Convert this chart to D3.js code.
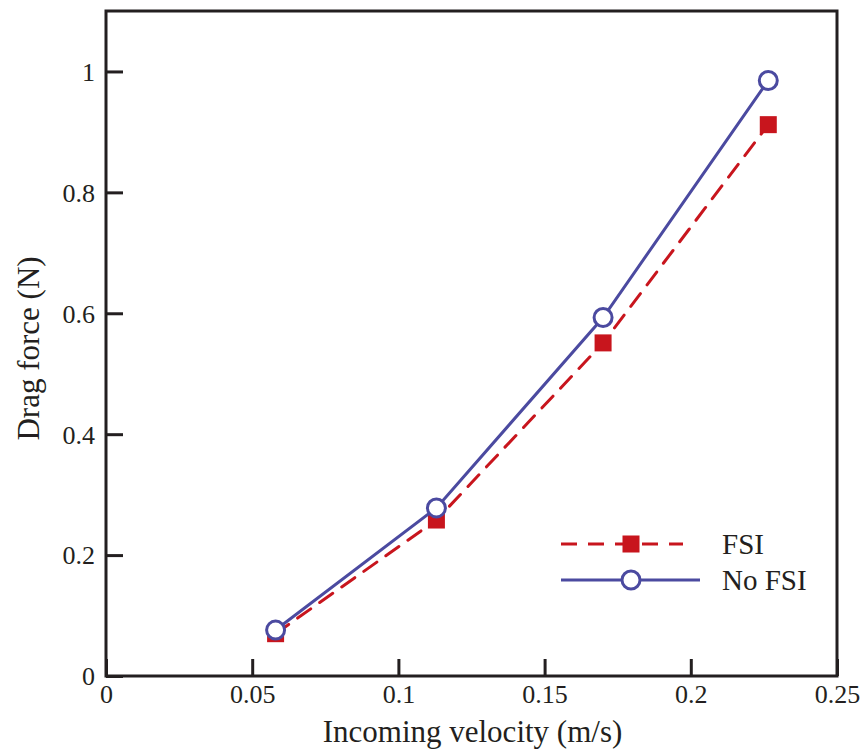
<!DOCTYPE html>
<html><head><meta charset="utf-8">
<script src="https://cdn.jsdelivr.net/npm/d3@7"></script>
<style>body{margin:0;background:#fff}svg{display:block}</style>
</head><body>
<svg id="c" width="866" height="751"></svg>
<script>
const velocity = [0.058, 0.113, 0.170, 0.2265];
const fsi = [0.070, 0.258, 0.551, 0.912];
const noFsi = [0.076, 0.278, 0.593, 0.985];
const xTicks = [0, 0.05, 0.1, 0.15, 0.2, 0.25];
const yTicks = [0, 0.2, 0.4, 0.6, 0.8, 1];
const seriesNames = ["FSI", "No FSI"];

const W = 866, H = 751;
const m = {left: 106, right: 29, top: 11, bottom: 75};
const svg = d3.select("#c");
const x = d3.scaleLinear().domain([0, 0.25]).range([m.left, W - m.right]);
const y = d3.scaleLinear().domain([0, 1.1]).range([H - m.bottom, m.top]);
const font = "'Liberation Serif', 'Times New Roman', serif";
const red = "#c8151d", blue = "#4b4aa0", ink = "#231f20";

// frame
svg.append("rect").attr("x", x(0)).attr("y", y(1.1)).attr("width", x(0.25) - x(0)).attr("height", y(0) - y(1.1))
  .attr("fill", "none").attr("stroke", ink).attr("stroke-width", 3);

const fmt = d => d === 0 ? "0" : String(d);
const xAxis = svg.append("g").attr("transform", `translate(0,${y(0)})`)
  .call(d3.axisBottom(x).tickValues(xTicks).tickSize(-17).tickFormat(fmt));
const yAxis = svg.append("g").attr("transform", `translate(${x(0)},0)`)
  .call(d3.axisLeft(y).tickValues(yTicks).tickSize(-17).tickFormat(fmt));
[xAxis, yAxis].forEach(g => {
  g.attr("font-family", null).attr("font-size", null);
  g.select(".domain").remove();
  g.selectAll(".tick line").attr("stroke", ink).attr("stroke-width", 3);
  g.selectAll(".tick text").attr("fill", ink).style("font-family", font).style("font-size", "26px");
});
xAxis.selectAll(".tick text").attr("y", 9).attr("dy", "0.71em");
yAxis.selectAll(".tick text").attr("x", -11).attr("dy", "0.34em");

// titles
svg.append("text").attr("x", (x(0) + x(0.25)) / 2 + 1).attr("y", 742).attr("text-anchor", "middle")
  .style("font-family", font).style("font-size", "31px").attr("fill", ink).text("Incoming velocity (m/s)");
svg.append("text").attr("transform", `translate(39,${(y(0) + y(1.1)) / 2 + 5}) rotate(-90)`).attr("text-anchor", "middle")
  .style("font-family", font).style("font-size", "31px").attr("fill", ink).text("Drag force (N)");

const line = d3.line().x(d => x(d[0])).y(d => y(d[1]));
const fsiPts = velocity.map((v, i) => [v, fsi[i]]);
const noPts = velocity.map((v, i) => [v, noFsi[i]]);

svg.append("path").datum(fsiPts).attr("d", line).attr("fill", "none").attr("stroke", red)
  .attr("stroke-width", 3).attr("stroke-dasharray", "16,11").attr("stroke-linecap", "round");
svg.selectAll(".sq").data(fsiPts).enter().append("rect")
  .attr("x", d => x(d[0]) - 8.5).attr("y", d => y(d[1]) - 8.5).attr("width", 17).attr("height", 17).attr("fill", red);

svg.append("path").datum(noPts).attr("d", line).attr("fill", "none").attr("stroke", blue).attr("stroke-width", 3);
svg.selectAll(".ci").data(noPts).enter().append("circle")
  .attr("cx", d => x(d[0])).attr("cy", d => y(d[1])).attr("r", 9).attr("fill", "#fff")
  .attr("stroke", blue).attr("stroke-width", 3);

// legend
const lg = svg.append("g");
const ly = [544, 580];
lg.append("line").attr("x1", 561).attr("x2", 683).attr("y1", ly[0]).attr("y2", ly[0]).attr("stroke", red)
  .attr("stroke-width", 3).attr("stroke-dasharray", "16,11");
lg.append("rect").attr("x", 631 - 8.5).attr("y", ly[0] - 8.5).attr("width", 17).attr("height", 17).attr("fill", red);
lg.append("line").attr("x1", 561).attr("x2", 700).attr("y1", ly[1]).attr("y2", ly[1]).attr("stroke", blue).attr("stroke-width", 3);
lg.append("circle").attr("cx", 631).attr("cy", ly[1]).attr("r", 9).attr("fill", "#fff").attr("stroke", blue).attr("stroke-width", 3);
seriesNames.forEach((n, i) => lg.append("text").attr("x", 722).attr("y", ly[i]).attr("dy", "0.35em")
  .style("font-family", font).style("font-size", "29px").attr("fill", ink).text(n));
</script>
</body></html>
